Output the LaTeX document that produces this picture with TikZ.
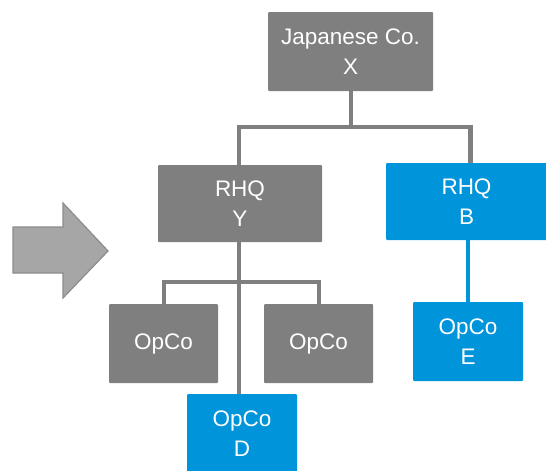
\documentclass[tikz,border=0pt]{standalone}
\usepackage{fontspec}
\setmainfont{Liberation Sans}
\definecolor{boxgray}{HTML}{7F7F7F}
\definecolor{boxblue}{HTML}{0094DA}
\definecolor{arrowfill}{HTML}{A6A6A6}
\definecolor{arrowline}{HTML}{8C8C8C}
\tikzset{
  box/.style={rectangle, rounded corners=1pt, text=white, align=center,
    font=\fontsize{22.5}{29.5}\selectfont, inner sep=0pt},
  graybox/.style={box, fill=boxgray},
  bluebox/.style={box, fill=boxblue},
  gconn/.style={draw=boxgray, line width=4.5pt},
  bconn/.style={draw=boxblue, line width=4pt},
}
\begin{document}
\begin{tikzpicture}[x=1pt,y=1pt]
\useasboundingbox (0,0) rectangle (546,-471);
% arrow
\draw[fill=arrowfill, draw=arrowline, line width=1.2pt, line join=miter]
  (13,-227) -- (63,-227) -- (63,-203) -- (108,-251) -- (63,-298) -- (63,-273) -- (13,-273) -- cycle;
\coordinate (topbar) at (351,-127);
\coordinate (ybar) at (239,-282);
% boxes
\node[graybox, minimum width=165pt, minimum height=79pt] (X) at (350.5,-51.5) {Japanese Co.\\X};
\node[graybox, minimum width=164pt, minimum height=77pt] (Y) at (240,-203.5) {RHQ\\Y};
\node[bluebox, minimum width=161pt, minimum height=77pt] (B) at (466.5,-201.5) {RHQ\\B};
\node[graybox, minimum width=109pt, minimum height=79pt] (O1) at (163.5,-343.5) {OpCo};
\node[graybox, minimum width=109pt, minimum height=79pt] (O2) at (318.5,-343.5) {OpCo};
\node[bluebox, minimum width=110pt, minimum height=79pt] (D) at (242,-433.5) {OpCo\\D};
\node[bluebox, minimum width=110pt, minimum height=79pt] (E) at (468,-341.5) {OpCo\\E};
% gray connectors
\draw[gconn] (X.south -| topbar) -- (topbar);
\draw[gconn] ([xshift=-1pt]Y.north) |- ([xshift=4pt]B.north |- topbar) -- ([xshift=4pt]B.north);
\draw[gconn] ([xshift=-1pt]Y.south) -- ([xshift=-3pt]D.north);
\draw[gconn] ([xshift=0.5pt]O1.north) |- (ybar) -| ([xshift=0.5pt]O2.north);
% blue connector
\draw[bconn] (E.north |- B.south) -- (E.north);
\end{tikzpicture}
\end{document}
